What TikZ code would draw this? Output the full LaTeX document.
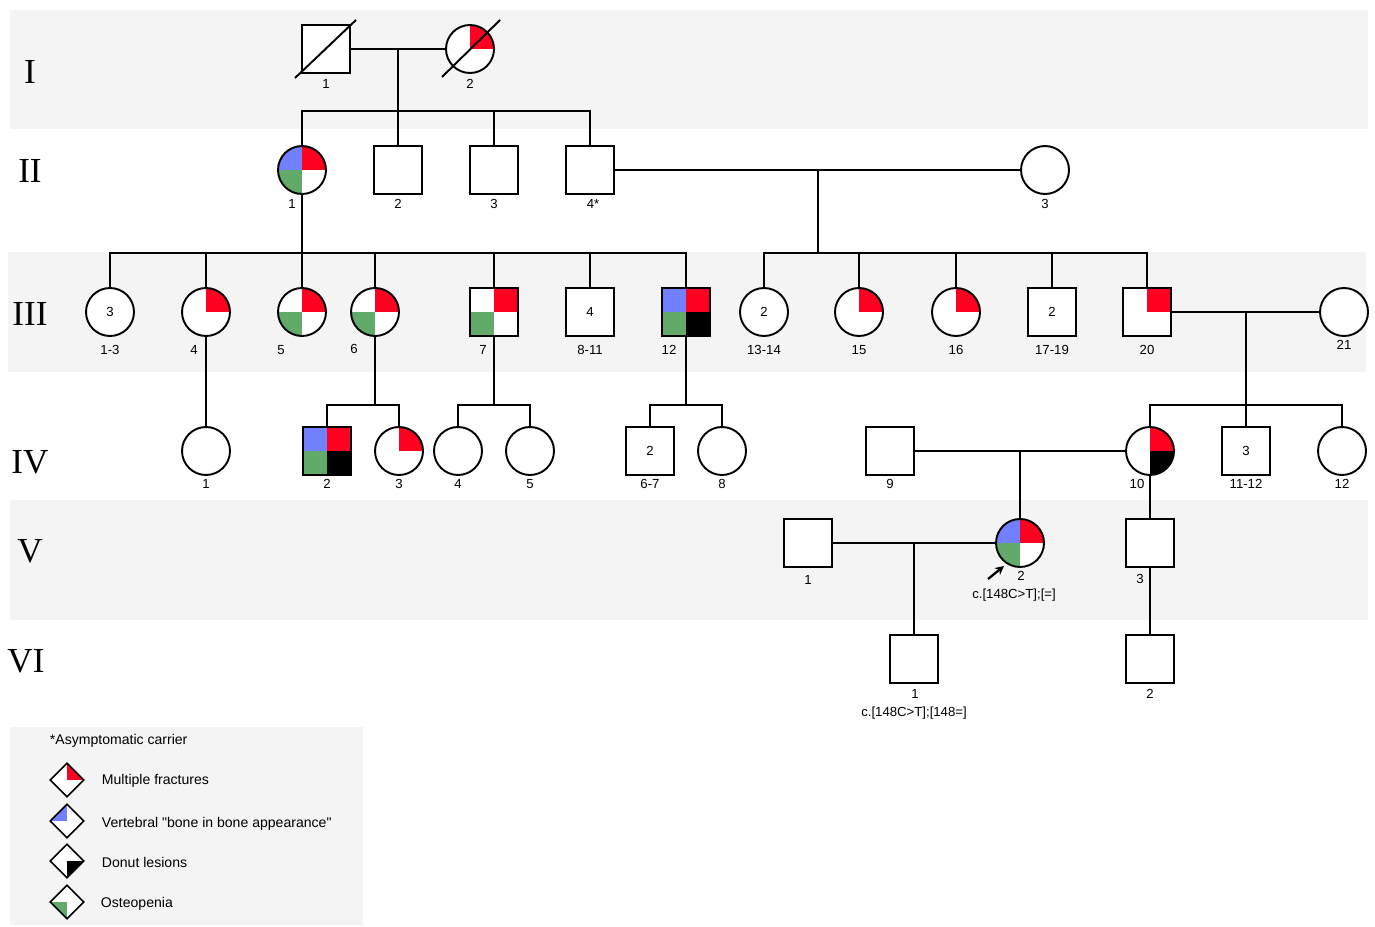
\documentclass[tikz,border=0pt]{standalone}
\usepackage{fontspec}
\setmainfont{Liberation Sans}[Ligatures=TeXOff]
\newfontfamily\genfont{Liberation Serif}
\usetikzlibrary{calc,arrows.meta,shapes.geometric}
\definecolor{fracred}{RGB}{255,0,32}
\definecolor{bonblue}{RGB}{112,128,255}
\definecolor{osteo}{RGB}{98,170,106}
\definecolor{bandgray}{RGB}{244,244,244}

\begin{document}
\begin{tikzpicture}[x=0.02cm,y=-0.02cm,line width=1.1pt,
    every node/.style={font=\fontsize{7.5}{9}\selectfont},
    male/.style={draw,fill=white,rectangle,minimum size=0.96cm,inner sep=0pt},
    female/.style={draw,fill=white,circle,minimum size=0.96cm,inner sep=0pt},
    legdia/.style={draw,fill=white,diamond,aspect=1,minimum width=0.68cm,minimum height=0.68cm,inner sep=0pt,line width=0.9pt},
    q/.style n args={4}{path picture={
        \fill[#1] (path picture bounding box.center) rectangle (path picture bounding box.north east);
        \fill[#2] (path picture bounding box.center) rectangle (path picture bounding box.north west);
        \fill[#3] (path picture bounding box.center) rectangle (path picture bounding box.south west);
        \fill[#4] (path picture bounding box.center) rectangle (path picture bounding box.south east);}},
    lbl/.style={inner sep=0pt,yshift=-0.02cm},
    gen/.style={inner sep=0pt,font=\genfont\fontsize{20}{24}\selectfont},
    legtxt/.style={inner sep=0pt,anchor=west,yshift=-0.03cm,font=\fontsize{8}{10}\selectfont}]

  % page and generation bands
  \useasboundingbox (0,0) rectangle (1375,926);
  \fill[white] (0,0) rectangle (1375,926);
  \fill[bandgray] (10,10) rectangle (1368,129);
  \fill[bandgray] (8,252) rectangle (1366,372);
  \fill[bandgray] (10,500) rectangle (1368,620);
  \fill[bandgray] (10,727) rectangle (363,925);

  % generation numbers
  \node[gen] (g1) at (30,72) {I};
  \node[gen] (g2) at (30,171) {II};
  \node[gen] (g3) at (30,314) {III};
  \node[gen] (g4) at (30,462) {IV};
  \node[gen] (g5) at (30,551) {V};
  \node[gen] (g6) at (26,661) {VI};

  % generation I
  \node[male] (i1) at (326,49) {};
  \node[female,q={fracred}{white}{white}{white}] (i2) at (470,49) {};
  \draw ($(i1.center)+(-31,29)$) -- ($(i1.center)+(30,-29)$);
  \draw ($(i2.center)+(-28,28)$) -- ($(i2.center)+(30,-29)$);
  \node[lbl] (n-i1) at (326,83) {1};
  \node[lbl] (n-i2) at (470,83) {2};

  % generation II
  \node[female,q={fracred}{bonblue}{osteo}{white}] (ii1) at (302,170) {};
  \node[male] (ii2) at (398,170) {};
  \node[male] (ii3) at (494,170) {};
  \node[male] (ii4) at (590,170) {};
  \node[female] (ii5) at (1045,170) {};
  \node[lbl] (n-ii1) at (292,203) {1};
  \node[lbl] (n-ii2) at (398,203) {2};
  \node[lbl] (n-ii3) at (494,203) {3};
  \node[lbl] (n-ii4) at (593,203) {4*};
  \node[lbl] (n-ii5) at (1045,203) {3};

  % generation III
  \node[female] (iii1) at (110,312) {3};
  \node[female,q={fracred}{white}{white}{white}] (iii4) at (206,312) {};
  \node[female,q={fracred}{white}{osteo}{white}] (iii5) at (302,312) {};
  \node[female,q={fracred}{white}{osteo}{white}] (iii6) at (375,312) {};
  \node[male,q={fracred}{white}{osteo}{white}] (iii7) at (494,312) {};
  \node[male] (iii8) at (590,312) {4};
  \node[male,q={fracred}{bonblue}{osteo}{black}] (iii12) at (686,312) {};
  \node[female] (iii13) at (764,312) {2};
  \node[female,q={fracred}{white}{white}{white}] (iii15) at (859,312) {};
  \node[female,q={fracred}{white}{white}{white}] (iii16) at (956,312) {};
  \node[male] (iii17) at (1052,312) {2};
  \node[male,q={fracred}{white}{white}{white}] (iii20) at (1147,312) {};
  \node[female] (iii21) at (1344,312) {};
  \node[lbl] (n-iii1) at (110,349) {1-3};
  \node[lbl] (n-iii4) at (194,349) {4};
  \node[lbl] (n-iii5) at (281,349) {5};
  \node[lbl] (n-iii6) at (354,348) {6};
  \node[lbl] (n-iii7) at (483,349) {7};
  \node[lbl] (n-iii8) at (590,349) {8-11};
  \node[lbl] (n-iii12) at (669,349) {12};
  \node[lbl] (n-iii13) at (764,349) {13-14};
  \node[lbl] (n-iii15) at (859,349) {15};
  \node[lbl] (n-iii16) at (956,349) {16};
  \node[lbl] (n-iii17) at (1052,349) {17-19};
  \node[lbl] (n-iii20) at (1147,349) {20};
  \node[lbl] (n-iii21) at (1344,344) {21};

  % generation IV
  \node[female] (iv1) at (206,451) {};
  \node[male,q={fracred}{bonblue}{osteo}{black}] (iv2) at (327,451) {};
  \node[female,q={fracred}{white}{white}{white}] (iv3) at (399,451) {};
  \node[female] (iv4) at (458,451) {};
  \node[female] (iv5) at (530,451) {};
  \node[male] (iv6) at (650,451) {2};
  \node[female] (iv8) at (722,451) {};
  \node[male] (iv9) at (890,451) {};
  \node[female,q={fracred}{white}{white}{black}] (iv10) at (1150,451) {};
  \node[male] (iv11) at (1246,451) {3};
  \node[female] (iv12) at (1342,451) {};
  \node[lbl] (n-iv1) at (206,483) {1};
  \node[lbl] (n-iv2) at (327,483) {2};
  \node[lbl] (n-iv3) at (399,483) {3};
  \node[lbl] (n-iv4) at (458,483) {4};
  \node[lbl] (n-iv5) at (530,483) {5};
  \node[lbl] (n-iv6) at (650,483) {6-7};
  \node[lbl] (n-iv8) at (722,483) {8};
  \node[lbl] (n-iv9) at (890,483) {9};
  \node[lbl] (n-iv10) at (1137,483) {10};
  \node[lbl] (n-iv11) at (1246,483) {11-12};
  \node[lbl] (n-iv12) at (1342,483) {12};

  % generation V
  \node[male] (v1) at (808,543) {};
  \node[female,q={fracred}{bonblue}{osteo}{white}] (v2) at (1020,543) {};
  \node[male] (v3) at (1150,543) {};
  \node[lbl] (n-v1) at (808,579) {1};
  \node[lbl] (n-v2) at (1021,575) {2};
  \node[lbl] (n-v2g) at (1014,594) {c.[148C>T];[=]};
  \node[lbl] (n-v3) at (1140,578) {3};
  \coordinate (pb1) at (988,579);
  \coordinate (pb2) at (1004,566);
  \draw[-{Stealth[length=5pt,width=5pt]},line width=1.3pt] (pb1) -- (pb2);

  % generation VI
  \node[male] (vi1) at (914,659) {};
  \node[male] (vi2) at (1150,659) {};
  \node[lbl] (n-vi1) at (915,693) {1};
  \node[lbl] (n-vi1g) at (914,712) {c.[148C>T];[148=]};
  \node[lbl] (n-vi2) at (1150,693) {2};

  % matings and sibships
  \coordinate (m1) at (398,49);
  \coordinate (s1) at (398,111);
  \draw (i1.east) -- (i2.west);
  \draw (m1) -- (s1);
  \draw (ii1.north) |- (ii4.north |- s1) -- (ii4.north);
  \draw (ii2.north) -- (ii2.north |- s1);
  \draw (ii3.north) -- (ii3.north |- s1);

  \coordinate (s2a) at (302,253);
  \draw (ii1.south) -- (s2a);
  \draw (iii1.north) |- (iii12.north |- s2a) -- (iii12.north);
  \foreach \c in {iii4,iii5,iii6,iii7,iii8}
    \draw (\c.north) -- (\c.north |- s2a);

  \coordinate (m2) at (818,170);
  \coordinate (s2b) at (818,253);
  \draw (ii4.east) -- (ii5.west);
  \draw (m2) -- (s2b);
  \draw (iii13.north) |- (iii20.north |- s2b) -- (iii20.north);
  \foreach \c in {iii15,iii16,iii17}
    \draw (\c.north) -- (\c.north |- s2b);

  \draw (iii4.south) -- (iv1.north);
  \coordinate (s3a) at (375,405);
  \draw (iii6.south) -- (s3a);
  \draw (iv2.north) |- (iv3.north |- s3a) -- (iv3.north);
  \coordinate (s3b) at (494,405);
  \draw (iii7.south) -- (s3b);
  \draw (iv4.north) |- (iv5.north |- s3b) -- (iv5.north);
  \coordinate (s3c) at (686,405);
  \draw (iii12.south) -- (s3c);
  \draw (iv6.north) |- (iv8.north |- s3c) -- (iv8.north);

  \coordinate (m3) at (1246,312);
  \coordinate (s3d) at (1246,405);
  \draw (iii20.east) -- (iii21.west);
  \draw (m3) -- (s3d);
  \draw (iv10.north) |- (iv12.north |- s3d) -- (iv12.north);
  \draw (iv11.north) -- (iv11.north |- s3d);

  \coordinate (m4) at (1020,451);
  \draw (iv9.east) -- (iv10.west);
  \draw (m4) -- (v2.north);
  \draw (iv10.south) -- (v3.north);

  \coordinate (m5) at (914,543);
  \draw (v1.east) -- (v2.west);
  \draw (m5) -- (vi1.north);
  \draw (v3.south) -- (vi2.north);

  % legend
  \node[legtxt] (t0) at (49,739) {*Asymptomatic carrier};
  \node[legdia,q={fracred}{white}{white}{white}] (d1) at (67,780) {};
  \node[legdia,q={white}{bonblue}{white}{white}] (d2) at (67,821) {};
  \node[legdia,q={white}{white}{white}{black}] (d3) at (67,861) {};
  \node[legdia,q={white}{white}{osteo}{white}] (d4) at (67,902) {};
  \node[legtxt] (t1) at (101,779) {Multiple fractures};
  \node[legtxt] (t2) at (101,822) {Vertebral "bone in bone appearance"};
  \node[legtxt] (t3) at (101,861) {Donut lesions};
  \node[legtxt] (t4) at (100,902) {Osteopenia};
\end{tikzpicture}
\end{document}
